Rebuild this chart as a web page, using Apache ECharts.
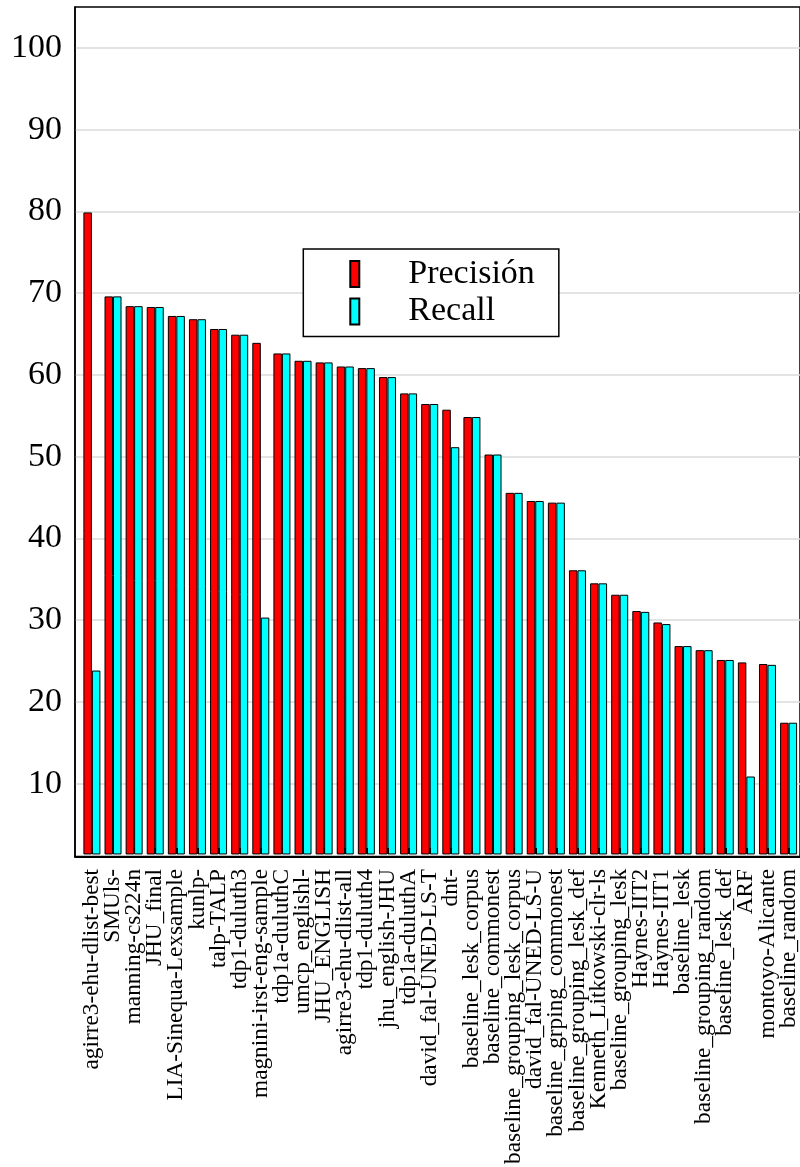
<!DOCTYPE html>
<html>
<head>
<meta charset="utf-8">
<script src="https://cdn.jsdelivr.net/npm/echarts@6/dist/echarts.min.js"></script>
<style>
  html, body { margin: 0; padding: 0; background: #fff; }
  #chart { width: 800px; height: 1167px; }
</style>
</head>
<body>
<div id="chart"></div>
<script>
// Systems, ordered by precision
const categories = [
  'agirre3-ehu-dlist-best', 'SMUls-', 'manning-cs224n', 'JHU_final',
  'LIA-Sinequa-Lexsample', 'kunlp-', 'talp-TALP', 'tdp1-duluth3',
  'magnini-irst-eng-sample', 'tdp1a-duluthC', 'umcp_englishl-', 'JHU_ENGLISH',
  'agirre3-ehu-dlist-all', 'tdp1-duluth4', 'jhu_english-JHU', 'tdp1a-duluthA',
  'david_fal-UNED-LS-T', 'dnt-', 'baseline_lesk_corpus', 'baseline_commonest',
  'baseline_grouping_lesk_corpus', 'david_fal-UNED-LS-U', 'baseline_grping_commonest',
  'baseline_grouping_lesk_def', 'Kenneth_Litkowski-clr-ls', 'baseline_grouping_lesk',
  'Haynes-IIT2', 'Haynes-IIT1', 'baseline_lesk', 'baseline_grouping_random',
  'baseline_lesk_def', 'ARF', 'montoyo-Alicante', 'baseline_random'
];

const precision = [
  79.8, 69.5, 68.3, 68.2, 67.1, 66.7, 65.5, 64.8, 63.8, 62.5, 61.6, 61.4,
  60.9, 60.7, 59.6, 57.6, 56.3, 55.6, 54.7, 50.1, 45.4, 44.4, 44.2, 35.9,
  34.3, 32.9, 30.9, 29.5, 26.6, 26.1, 24.9, 24.6, 24.4, 17.2
];

const recall = [
  23.6, 69.5, 68.3, 68.2, 67.1, 66.7, 65.5, 64.8, 30.1, 62.5, 61.6, 61.4,
  60.9, 60.7, 59.6, 57.6, 56.3, 51.0, 54.7, 50.1, 45.4, 44.4, 44.2, 35.9,
  34.3, 32.9, 30.8, 29.3, 26.6, 26.1, 24.9, 10.6, 24.3, 17.2
];

const yTicks = [10, 20, 30, 40, 50, 60, 70, 80, 90, 100];

const FONT = 'Liberation Serif';
const Y_MIN = 1.1, Y_MAX = 105;

const chart = echarts.init(document.getElementById('chart'), null, { renderer: 'canvas' });

chart.setOption({
  animation: false,
  backgroundColor: '#fff',
  grid: [
    // frame, y axis and grid lines
    { left: 75, top: 7, right: -40, bottom: 310.5, show: true,
      borderColor: '#000', borderWidth: 1.5, backgroundColor: 'transparent' },
    // bars and category labels (first band starts slightly right of the frame)
    { left: 81.35, top: 7, right: -5.6, bottom: 310.5 }
  ],
  legend: {
    orient: 'vertical',
    left: 303.3,
    top: 249,
    padding: [8.1, 24, 8.1, 46],
    itemWidth: 9,
    itemHeight: 26,
    itemGap: 3.3,
    backgroundColor: '#fff',
    borderColor: '#000',
    borderWidth: 1.5,
    icon: 'rect',
    textStyle: {
      fontFamily: FONT, fontSize: 34, color: '#000',
      padding: [0, 0, 0, 44]
    },
    data: ['Precisión', 'Recall']
  },
  xAxis: [
    {
      gridIndex: 0, type: 'value', min: 0, max: 1,
      axisLine: { show: true, lineStyle: { color: '#000', width: 2 } },
      axisTick: { show: false }, axisLabel: { show: false },
      splitLine: { show: false }
    },
    {
      gridIndex: 1, type: 'category', data: categories,
      boundaryGap: true,
      axisLine: { show: false },
      axisTick: { show: true, inside: true, length: 6, alignWithLabel: true,
        lineStyle: { color: '#000', width: 2 } },
      axisLabel: {
        interval: 0, rotate: 90, margin: 15,
        fontFamily: FONT, fontSize: 23.3, color: '#000'
      },
      splitLine: { show: false },
      z: 5
    }
  ],
  yAxis: [
    {
      gridIndex: 0, type: 'value', min: Y_MIN, max: Y_MAX,
      axisLine: { show: true, lineStyle: { color: '#000', width: 1.5 } },
      axisTick: { show: false, customValues: yTicks },
      axisLabel: {
        customValues: yTicks, margin: 13,
        fontFamily: FONT, fontSize: 34, color: '#000'
      },
      splitLine: { show: true, lineStyle: { color: '#dadada', width: 1.5 } }
    },
    {
      gridIndex: 1, type: 'value', min: Y_MIN, max: Y_MAX, show: false,
      splitLine: { show: false }
    }
  ],
  series: [
    {
      name: 'Precisión', type: 'bar', xAxisIndex: 1, yAxisIndex: 1,
      data: precision, barWidth: 8.5, barGap: '0%',
      itemStyle: { color: '#ff0000', borderColor: '#000', borderWidth: 1 }
    },
    {
      name: 'Recall', type: 'bar', xAxisIndex: 1, yAxisIndex: 1,
      data: recall, barWidth: 8.5, barGap: '0%',
      itemStyle: { color: '#00ffff', borderColor: '#000', borderWidth: 1 }
    }
  ]
});
</script>
</body>
</html>
